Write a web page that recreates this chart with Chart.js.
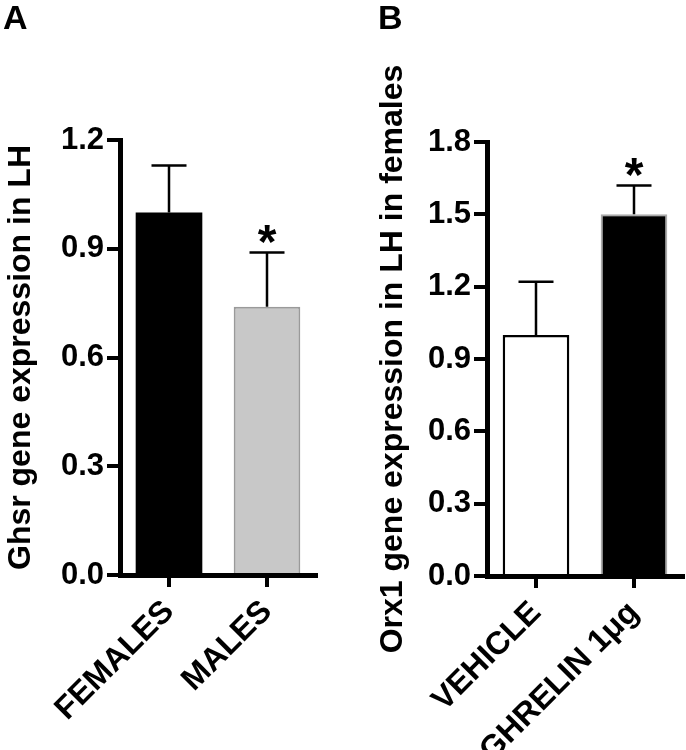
<!DOCTYPE html>
<html><head><meta charset="utf-8">
<script src="https://cdn.jsdelivr.net/npm/chart.js@4"></script>
<style>
html,body{margin:0;padding:0;background:#fff;}
#wrap{position:relative;width:686px;height:750px;overflow:hidden;background:#fff;}
.panel{position:absolute;top:0;width:343px;height:750px;}
.lbl{position:absolute;font:bold 34px "Liberation Sans",Arial,sans-serif;line-height:34px;color:#000;}
</style></head><body>
<div id="wrap">
<div class="panel" style="left:0"><canvas id="cA" width="343" height="750"></canvas></div>
<div class="panel" style="left:343px"><canvas id="cB" width="343" height="750"></canvas></div>
<div class="lbl" style="left:3px;top:0px">A</div>
<div class="lbl" style="left:378px;top:0px">B</div>
</div>
<script>
// ---- Data: panel A ----
const categoriesA = ['FEMALES', 'MALES'];
const meansA = [1.00, 0.74];
const errorsA = [0.13, 0.15];
const signifA = ['', '*'];
const ticksA = [0, 0.3, 0.6, 0.9, 1.2];
const titleA = 'Ghsr gene expression in LH';

// ---- Data: panel B ----
const categoriesB = ['VEHICLE', 'GHRELIN 1μg'];
const meansB = [1.00, 1.50];
const errorsB = [0.22, 0.12];
const signifB = ['', '*'];
const ticksB = [0, 0.3, 0.6, 0.9, 1.2, 1.5, 1.8];
const titleB = 'Orx1 gene expression in LH in females';

const FAM = '"Liberation Sans", Arial, sans-serif';

const errorBarPlugin = {
  id: 'errbars',
  afterDatasetsDraw(chart, args, opts) {
    const ctx = chart.ctx, x = chart.scales.x, y = chart.scales.y;
    ctx.save();
    ctx.strokeStyle = '#000';
    ctx.fillStyle = '#000';
    ctx.lineWidth = 2.5;
    opts.means.forEach((m, i) => {
      const px = x.getPixelForValue(i);
      const yTop = y.getPixelForValue(m);
      const yErr = y.getPixelForValue(m + opts.errors[i]);
      ctx.beginPath();
      ctx.moveTo(px, yTop); ctx.lineTo(px, yErr);
      ctx.moveTo(px - 17.5, yErr); ctx.lineTo(px + 17.5, yErr);
      ctx.stroke();
      if (opts.signif[i]) {
        ctx.font = 'bold 48px ' + FAM;
        ctx.textAlign = 'center';
        ctx.textBaseline = 'alphabetic';
        ctx.fillText(opts.signif[i], px, yErr + 6);
      }
    });
    ctx.restore();
  }
};

function makeChart(id, cats, means, errors, signif, ticks, title, colors, borders, bwidths, geom) {
  return new Chart(document.getElementById(id), {
    type: 'bar',
    data: {
      labels: cats,
      datasets: [{
        data: means,
        backgroundColor: colors,
        borderColor: borders,
        borderWidth: bwidths,
        barPercentage: 0.68,
        categoryPercentage: 1.0
      }]
    },
    options: {
      responsive: false,
      animation: false,
      devicePixelRatio: 1,
      layout: { padding: { top: geom.top, right: geom.right, left: 0, bottom: 0 } },
      plugins: {
        legend: { display: false },
        tooltip: { enabled: false },
        errbars: { means: means, errors: errors, signif: signif }
      },
      scales: {
        x: {
          offset: true,
          ticks: {
            font: { family: FAM, size: 32, weight: 'bold' }, color: '#000',
            minRotation: 45, maxRotation: 45, autoSkip: false, padding: 6
          },
          grid: { display: true, offset: false, drawOnChartArea: false, drawTicks: true, tickLength: 12, lineWidth: 4, color: '#000' },
          border: { display: true, width: 5, color: '#000' },
          afterFit: s => { s.height = geom.xh; }
        },
        y: {
          min: ticks[0], max: ticks[ticks.length - 1],
          afterBuildTicks: s => { s.ticks = ticks.map(v => ({ value: v })); },
          ticks: {
            font: { family: FAM, size: 31, weight: 'bold' }, color: '#000', padding: 3,
            callback: v => Number(v).toFixed(1)
          },
          grid: { display: true, drawOnChartArea: false, drawTicks: true, tickLength: 13, lineWidth: 4, color: '#000' },
          border: { display: true, width: 5, color: '#000' },
          title: { display: true, text: title, color: '#000', font: { family: FAM, size: 32, weight: 'bold' }, padding: { top: geom.tpad, bottom: 0 } },
          afterFit: s => { s.width = geom.left; }
        }
      }
    },
    plugins: [errorBarPlugin]
  });
}

makeChart('cA', categoriesA, meansA, errorsA, signifA, ticksA, titleA,
  ['#000000', '#c8c8c8'], ['#000000', '#9a9a9a'], [0, 2],
  { top: 140, right: 27, xh: 175, left: 120, tpad: 2 });
makeChart('cB', categoriesB, meansB, errorsB, signifB, ticksB, titleB,
  ['#ffffff', '#000000'], ['#000000', '#aaaaaa'], [2.5, 2],
  { top: 142, right: 3, xh: 174, left: 144, tpad: 31 });
</script>
</body></html>
